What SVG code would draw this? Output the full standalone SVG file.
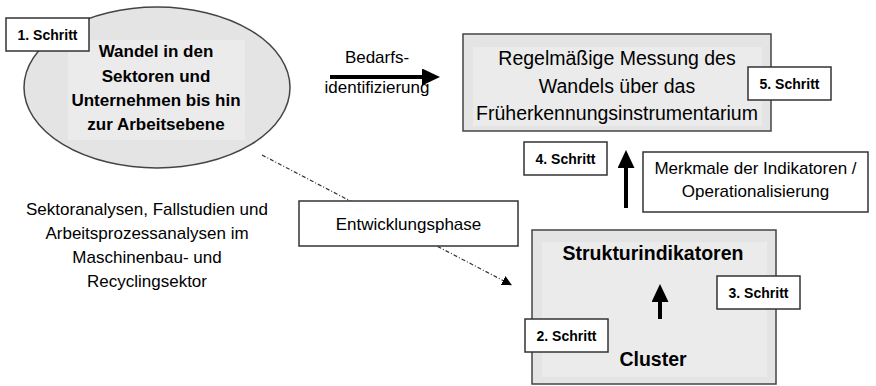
<svg xmlns="http://www.w3.org/2000/svg" width="876" height="386" viewBox="0 0 876 386">
  <style>
    text { font-family: "Liberation Sans", Arial, sans-serif; fill: #000; }
    .panel { fill: #e4e4e4; stroke: #444; stroke-width: 1.5; }
    .inner { fill: #ebebeb; stroke: none; }
    .step { fill: #fff; stroke: #333; stroke-width: 1.5; }
    .stepTxt { font-size: 14px; font-weight: bold; text-anchor: middle; }
    .bold17 { font-size: 17px; font-weight: bold; text-anchor: middle; }
    .reg17 { font-size: 17px; text-anchor: middle; }
    .reg19 { font-size: 19.5px; text-anchor: middle; }
    .bold19 { font-size: 19.5px; font-weight: bold; text-anchor: middle; }
    .thick { stroke: #000; stroke-width: 4; fill: none; marker-end: url(#bigHead); }
    .dashdot { stroke: #333; stroke-width: 1.2; fill: none; stroke-dasharray: 4 2 1 2; }
  </style>
  <defs>
    <marker id="bigHead" viewBox="0 0 18 17" refX="1" refY="8.5" markerWidth="18" markerHeight="17" markerUnits="userSpaceOnUse" orient="auto">
      <path d="M0,0 L18,8.5 L0,17 z" fill="#000"/>
    </marker>
    <marker id="smallHead" viewBox="0 0 10 10" refX="1" refY="5" markerWidth="10" markerHeight="10" markerUnits="userSpaceOnUse" orient="auto">
      <path d="M0,0 L10,5 L0,10 z" fill="#000"/>
    </marker>
  </defs>

  <!-- connectors -->
  <g id="connectors">
    <path class="dashdot" d="M262,155 L504,281" marker-end="url(#smallHead)"/>
    <path class="thick" d="M330,77 L423,77"/>
    <path class="thick" d="M626,208 L626,167"/>
    <path class="thick" d="M660,319 L660,301"/>
  </g>

  <!-- step 1: change in sectors -->
  <g id="node-wandel">
    <ellipse class="panel" cx="157" cy="87.5" rx="133" ry="80.5"/>
    <rect class="inner" x="68" y="40" width="177" height="100"/>
    <text class="bold17" x="156" y="57">Wandel in den</text>
    <text class="bold17" x="156" y="81.5">Sektoren und</text>
    <text class="bold17" x="156" y="106">Unternehmen bis hin</text>
    <text class="bold17" x="156" y="130">zur Arbeitsebene</text>
  </g>
  <g id="step-1">
    <rect class="step" x="6" y="18" width="83" height="33"/>
    <text class="stepTxt" x="47.5" y="39.5">1. Schritt</text>
  </g>

  <!-- label on the demand arrow -->
  <g id="label-bedarf">
    <text class="reg17" x="377" y="63">Bedarfs-</text>
    <text class="reg17" x="377" y="93">identifizierung</text>
  </g>

  <!-- regular measurement box -->
  <g id="node-messung">
    <rect class="panel" x="463" y="34" width="308" height="97"/>
    <rect class="inner" x="473" y="47" width="289" height="79"/>
    <text class="reg19" x="617" y="65">Regelmäßige Messung des</text>
    <text class="reg19" x="617" y="92.5">Wandels über das</text>
    <text class="reg19" x="617" y="119.5">Früherkennungsinstrumentarium</text>
  </g>
  <g id="step-5">
    <rect class="step" x="748" y="67" width="83" height="33"/>
    <text class="stepTxt" x="789.5" y="88.5">5. Schritt</text>
  </g>

  <g id="step-4">
    <rect class="step" x="524" y="142" width="83" height="33"/>
    <text class="stepTxt" x="565.5" y="163.5">4. Schritt</text>
  </g>

  <g id="node-merkmale">
    <rect class="step" x="643" y="152" width="225" height="60"/>
    <text class="reg17" x="755.5" y="174">Merkmale der Indikatoren /</text>
    <text class="reg17" x="755.5" y="197">Operationalisierung</text>
  </g>

  <!-- development phase -->
  <g id="node-sektoranalysen">
    <text class="reg17" x="147" y="215">Sektoranalysen, Fallstudien und</text>
    <text class="reg17" x="147" y="239">Arbeitsprozessanalysen im</text>
    <text class="reg17" x="147" y="263">Maschinenbau- und</text>
    <text class="reg17" x="147" y="287">Recyclingsektor</text>
  </g>

  <g id="node-entwicklung">
    <rect class="step" x="299" y="201" width="219" height="45"/>
    <text class="reg17" x="408.5" y="230">Entwicklungsphase</text>
  </g>

  <!-- structure indicators / cluster -->
  <g id="node-cluster">
    <rect class="panel" x="532" y="230" width="244" height="154"/>
    <rect class="inner" x="542" y="242" width="225" height="135"/>
    <text class="bold19" x="653" y="260">Strukturindikatoren</text>
    <text class="bold19" x="653" y="366">Cluster</text>
    <path class="thick" d="M660,319 L660,301"/>
  </g>
  <g id="step-2">
    <rect class="step" x="525" y="319" width="83" height="33"/>
    <text class="stepTxt" x="566.5" y="340.5">2. Schritt</text>
  </g>
  <g id="step-3">
    <rect class="step" x="717" y="276" width="83" height="33"/>
    <text class="stepTxt" x="758.5" y="297.5">3. Schritt</text>
  </g>
</svg>
